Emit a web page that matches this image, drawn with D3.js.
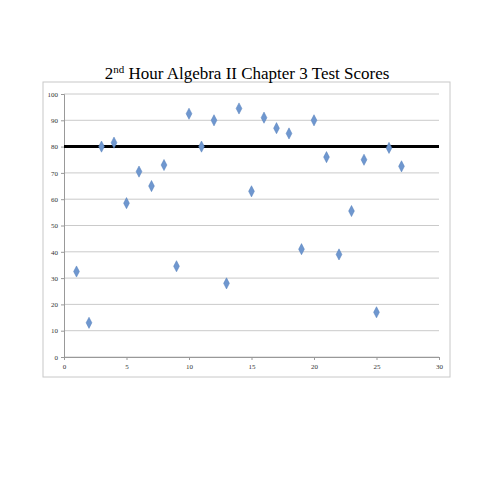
<!DOCTYPE html><html><head><meta charset="utf-8"><script src="https://cdn.jsdelivr.net/npm/d3@7"></script>
<style>body{margin:0;background:#fff}</style></head><body><svg id="c" width="495" height="495"></svg>
<script>
const students=[1,2,3,4,5,6,7,8,9,10,11,12,13,14,15,16,17,18,19,20,21,22,23,24,25,26,27];
const scores=[32.5,13,80,81.5,58.5,70.5,65,73,34.5,92.5,80,90,28,94.5,63,91,87,85,41,90,76,39,55.5,75,17,79.5,72.5];
const xTicks=[0,5,10,15,20,25,30];
const yTicks=[0,10,20,30,40,50,60,70,80,90,100];
const target=[80];
const svg=d3.select("#c");
svg.append("rect").attr("x",43).attr("y",82).attr("width",407).attr("height",295).attr("fill","#fff").attr("stroke","#c8c8c8");
const x=d3.scaleLinear().domain([0,30]).range([64,439]);
const y=d3.scaleLinear().domain([0,100]).range([357,94]);
svg.append("g").selectAll("line").data(yTicks).join("line").attr("x1",64).attr("x2",439).attr("y1",d=>y(d)).attr("y2",d=>y(d)).attr("stroke","#bdbdbd").attr("stroke-width",0.8);
svg.append("g").attr("transform","translate(64,0)").call(d3.axisLeft(y).tickValues(yTicks).tickSize(3)).call(g=>{g.select(".domain").attr("stroke","#999");g.selectAll("line").attr("stroke","#999");g.selectAll("text").attr("font-family","Liberation Serif").attr("font-size",7).attr("fill","#333");});
svg.append("g").attr("transform","translate(0,357)").call(d3.axisBottom(x).tickValues(xTicks).tickSize(3)).call(g=>{g.select(".domain").attr("stroke","#999");g.selectAll("line").attr("stroke","#999");g.selectAll("text").attr("font-family","Liberation Serif").attr("font-size",7).attr("fill","#333").attr("dy","0.9em");});
svg.selectAll(".t").data(target).join("line").attr("x1",64).attr("x2",439).attr("y1",d=>y(d)).attr("y2",d=>y(d)).attr("stroke","#000").attr("stroke-width",3);
svg.append("g").selectAll("path").data(scores).join("path").attr("d",d3.symbol(d3.symbolDiamond,36)).attr("transform",(d,i)=>`translate(${x(students[i])},${y(d)}) scale(0.9,1)`).attr("fill","#6f97cf").attr("stroke","#4f7bb8").attr("stroke-width",0.5);
const t=svg.append("text").attr("x",247).attr("y",79).attr("text-anchor","middle").attr("font-family","Liberation Serif").attr("font-size",17).attr("fill","#000");
t.append("tspan").text("2");t.append("tspan").attr("font-size",11).attr("dy",-6).text("nd");t.append("tspan").attr("dy",6).text(" Hour Algebra II Chapter 3 Test Scores");
</script></body></html>
